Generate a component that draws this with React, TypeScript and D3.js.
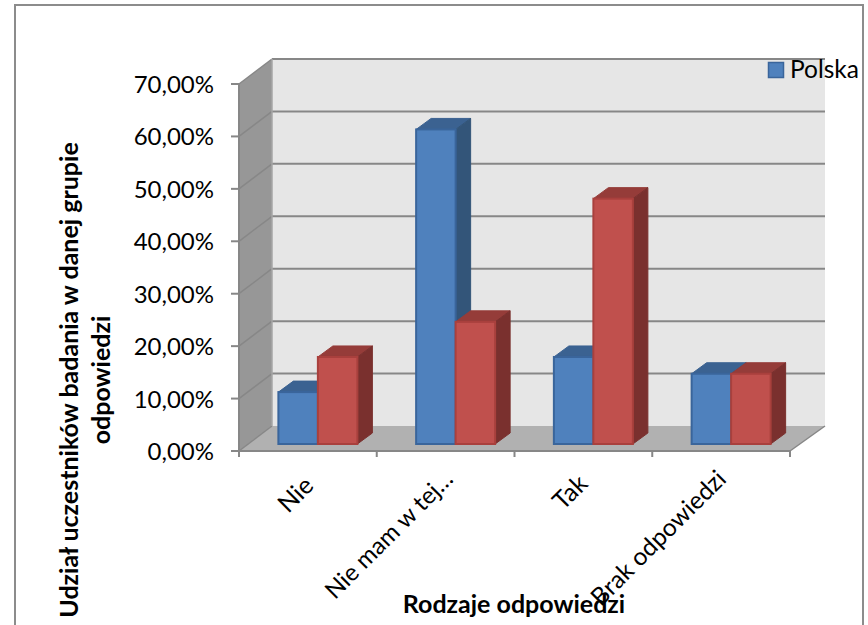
import React from "react";
import * as d3 from "d3";

const categories = ["Nie", "Nie mam w tej…", "Tak", "Brak odpowiedzi"];
const polskaValues = [9.9, 60.0, 16.6, 13.4];
const comparisonValues = [16.6, 23.3, 46.8, 13.4];
const yTickValues = [0, 10, 20, 30, 40, 50, 60, 70];
const legendLabel = "Polska";
const xTitle = "Rodzaje odpowiedzi";
const yTitleLines = ["Udział uczestników badania w danej grupie", "odpowiedzi"];

const WIDTH = 868;
const HEIGHT = 625;
const FONT = "Lato, 'Open Sans', sans-serif";

// Oblique projection of the 3D chart box.
const DEPTH_X = 33;
const DEPTH_Y = -25;
const BAR_SHIFT_X = 10;
const BAR_SHIFT_Y = -7;
const BAR_DEPTH_X = 15;
const BAR_DEPTH_Y = -11;

const xScale = d3.scaleBand<string>().domain(categories).range([239, 790]);
const yScale = d3.scaleLinear().domain([0, 70]).range([451, 84]);

const AXIS_COLOR = "#878787";

const blue = { front: "#4f81bd", edge: "#3a659b", top: "#3b6291", side: "#335579" };
const red = { front: "#c0504d", edge: "#a9403d", top: "#953c39", side: "#7a302e" };

const pts = (p: [number, number][]) => p.map((q) => q.join(",")).join(" ");

function Bar3D({ x, value, w, c }: { x: number; value: number; w: number; c: typeof blue }) {
  const x0 = x + BAR_SHIFT_X;
  const x1 = x0 + w;
  const base = yScale(0) + BAR_SHIFT_Y;
  const top = yScale(value) + BAR_SHIFT_Y;
  return (
    <g>
      <polygon
        points={pts([[x0, top], [x0 + BAR_DEPTH_X, top + BAR_DEPTH_Y], [x1 + BAR_DEPTH_X, top + BAR_DEPTH_Y], [x1, top]])}
        fill={c.top}
        stroke={c.top}
      />
      <polygon
        points={pts([[x1, top], [x1 + BAR_DEPTH_X, top + BAR_DEPTH_Y], [x1 + BAR_DEPTH_X, base + BAR_DEPTH_Y], [x1, base]])}
        fill={c.side}
        stroke={c.side}
      />
      <rect x={x0} y={top} width={w} height={base - top} fill={c.front} stroke={c.edge} strokeWidth={2} />
    </g>
  );
}

export default function App() {
  const band = xScale.bandwidth();
  const barW = 39.5;
  const left = xScale.range()[0];
  const right = xScale.range()[1];
  const y0 = yScale(0);
  const yTop = yScale(70);
  const labelEnds: [number, number][] = [[301, 473], [441, 467], [575, 471], [714, 467]];
  const labelSizes = [25, 24, 25, 24.5];

  return (
    <svg
      width={WIDTH}
      height={HEIGHT}
      viewBox={`0 0 ${WIDTH} ${HEIGHT}`}
      style={{ position: "absolute", left: 0, top: 0, display: "block", background: "#fff" }}
      fontFamily={FONT}
    >
      <rect x={15} y={5} width={848} height={660} fill="#fff" stroke="#8c8c8c" strokeWidth={2} />

      {/* Back wall, side wall and floor */}
      <rect x={left + DEPTH_X} y={yTop + DEPTH_Y} width={right - left + 2} height={y0 - yTop} fill="#e6e6e6" />
      <polygon
        points={pts([[left, yTop], [left + DEPTH_X, yTop + DEPTH_Y], [left + DEPTH_X, y0 + DEPTH_Y], [left, y0]])}
        fill="#979797"
      />
      <polygon
        points={pts([[left, y0], [left + DEPTH_X, y0 + DEPTH_Y], [right + DEPTH_X + 2, y0 + DEPTH_Y], [right, y0]])}
        fill="#b1b1b1"
      />

      {/* Gridlines across both walls, with tick marks and labels */}
      {yTickValues.map((t) => {
        const y = yScale(t);
        return (
          <g key={t}>
            {t > 0 && (
              <line
                x1={left + DEPTH_X}
                x2={right + DEPTH_X + 2}
                y1={y + DEPTH_Y}
                y2={y + DEPTH_Y}
                stroke={AXIS_COLOR}
                strokeWidth={2}
              />
            )}
            <line x1={left} x2={left + DEPTH_X} y1={y} y2={y + DEPTH_Y} stroke={AXIS_COLOR} strokeWidth={1.5} />
            <line x1={left - 8} x2={left} y1={y} y2={y} stroke={AXIS_COLOR} strokeWidth={2} />
            <text x={214} y={y + 9} textAnchor="end" fontSize={24} fill="#000">
              {`${d3.format(".2f")(t).replace(".", ",")}%`}
            </text>
          </g>
        );
      })}

      <line x1={left + DEPTH_X} x2={left + DEPTH_X} y1={yTop + DEPTH_Y} y2={y0 + DEPTH_Y} stroke="#a6a6a6" strokeWidth={1.5} />
      <line x1={left} x2={left} y1={yTop} y2={y0 + 6} stroke={AXIS_COLOR} strokeWidth={2} />
      <line x1={left} x2={right} y1={y0} y2={y0} stroke={AXIS_COLOR} strokeWidth={2} />
      <line x1={right} x2={right + DEPTH_X + 2} y1={y0} y2={y0 + DEPTH_Y} stroke={AXIS_COLOR} strokeWidth={1.5} />
      {[...categories.map((c) => xScale(c) as number), right].map((x, i) => (
        <line key={i} x1={x} x2={x} y1={y0} y2={y0 + 6} stroke={AXIS_COLOR} strokeWidth={2} />
      ))}

      {/* Bars, drawn back to front within each category */}
      {categories.map((c, i) => {
        const mid = (xScale(c) as number) + band / 2;
        return (
          <g key={c}>
            <Bar3D x={mid - barW} value={polskaValues[i]} w={barW} c={blue} />
            <Bar3D x={mid} value={comparisonValues[i]} w={barW} c={red} />
          </g>
        );
      })}

      {/* Category labels */}
      {categories.map((c, i) => (
        <text
          key={c}
          transform={`translate(${labelEnds[i][0]},${labelEnds[i][1]}) rotate(-45)`}
          textAnchor="end"
          dominantBaseline="hanging"
          fontSize={labelSizes[i]}
          fill="#000"
        >
          {c}
        </text>
      ))}

      {/* Legend */}
      <rect x={768.5} y={62.5} width={15} height={15} fill={blue.front} stroke={blue.edge} strokeWidth={1.5} />
      <text x={790} y={78} fontSize={24.5} fill="#000">
        {legendLabel}
      </text>

      {/* Axis titles */}
      <text x={514} y={613} textAnchor="middle" fontSize={25} fontWeight={700} fill="#000">
        {xTitle}
      </text>
      {yTitleLines.map((line, i) => (
        <text
          key={line}
          transform={`translate(${78 + i * 32},380) rotate(-90)`}
          textAnchor="middle"
          fontSize={25}
          fontWeight={700}
          fill="#000"
        >
          {line}
        </text>
      ))}
    </svg>
  );
}
